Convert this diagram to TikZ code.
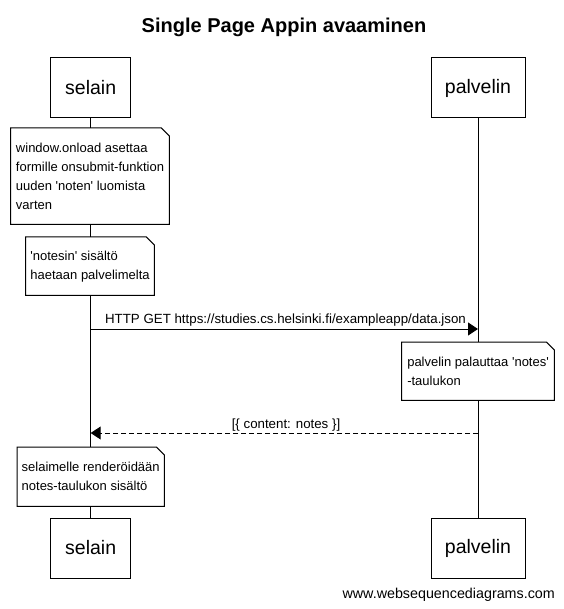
\documentclass[tikz,border=0pt]{standalone}
\usepackage{fontspec}
\setmainfont{Liberation Sans}
\usetikzlibrary{arrows.meta}
\newcommand\myq{\textquotesingle}
\newcommand\drawnote[1]{%
  \draw[line width=1pt] (#1.north west) -- ([xshift=-8pt]#1.north east) -- ([yshift=-8pt]#1.north east) -- (#1.south east) -- (#1.south west) -- cycle;}
\begin{document}
\begin{tikzpicture}[x=1pt,y=-1pt,
  actor/.style={draw,line width=1pt,fill=white,minimum height=60pt,inner sep=0pt,font=\fontsize{19.5}{22}\selectfont},
  notebox/.style={fill=white,anchor=north west,inner sep=0pt,align=left,font=\fontsize{13}{19}\selectfont},
  msg/.style={line width=1pt,-{Triangle[length=10pt,width=13pt]}},
  reply/.style={msg,dash pattern=on 5pt off 3pt},
  lbl/.style={font=\fontsize{13.3}{15}\selectfont,inner sep=0pt},
  life/.style={line width=1pt}
]
\fill[white] (0,0) rectangle (563,609);
\useasboundingbox (0,0) rectangle (563,609);

\node[font=\bfseries\fontsize{20}{24}\selectfont] (title) at (284,27) {Single Page Appin avaaminen};

\node[actor,minimum width=80pt] (s1) at (90.7,88) {selain};
\node[actor,minimum width=94pt] (p1) at (478,88) {palvelin};
\node[actor,minimum width=80pt] (s2) at (90.7,548) {selain};
\node[actor,minimum width=94pt] (p2) at (478,548) {palvelin};

\draw[life] (s1.south) -- (s2.north);
\draw[life] (p1.south) -- (p2.north);

\node[notebox,minimum width=158.3pt,minimum height=96pt] (n1) at (10.7,128) {window.onload asettaa\\formille onsubmit-funktion\\uuden \myq noten\myq{} luomista\\varten};
\drawnote{n1}
\node[notebox,minimum width=128.3pt,minimum height=58pt] (n2) at (25.7,237) {\myq notesin\myq{} sisältö\\haetaan palvelimelta};
\drawnote{n2}

\coordinate (ha) at (90.7,329);
\coordinate (hb) at (478,329);
\draw[msg] (ha) -- (hb);
\node[lbl] (l1) at (285.5,320) {HTTP GET https://studies.cs.helsinki.fi/exampleapp/data.json};

\node[notebox,minimum width=152.3pt,minimum height=58pt] (n3) at (401.7,342) {palvelin palauttaa \myq notes\myq\\-taulukon};
\drawnote{n3}

\coordinate (ra) at (478,433);
\coordinate (rb) at (90.7,433);
\draw[reply] (ra) -- (rb);
\node[lbl] (l2) at (286,425) {[\{ content: notes \}]};

\node[notebox,minimum width=147pt,minimum height=59pt] (n4) at (17,447) {selaimelle renderöidään\\notes-taulukon sisältö};
\drawnote{n4}

\node[anchor=east,inner sep=0pt,font=\fontsize{14.3}{16}\selectfont] (wm) at (555,595) {www.websequencediagrams.com};
\end{tikzpicture}
\end{document}
